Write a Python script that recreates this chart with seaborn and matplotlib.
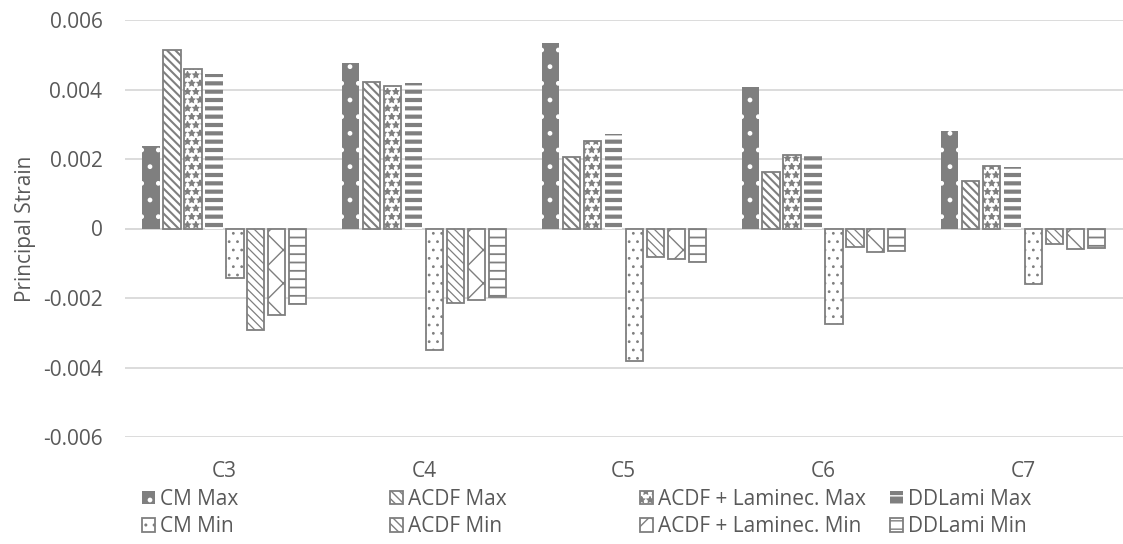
import numpy as np
import pandas as pd
import matplotlib
matplotlib.use("Agg")
import matplotlib.pyplot as plt
import matplotlib.patches as mpatches
import seaborn as sns

# data
levels = ["C3", "C4", "C5", "C6", "C7"]
series = ["CM Max", "ACDF Max", "ACDF + Laminec. Max", "DDLami Max",
          "CM Min", "ACDF Min", "ACDF + Laminec. Min", "DDLami Min"]
cm_max = [0.00237, 0.00475, 0.00533, 0.00408, 0.00281]
acdf_max = [0.00515, 0.00423, 0.00207, 0.00164, 0.00137]
lam_max = [0.00458, 0.00411, 0.00251, 0.00212, 0.00181]
ddlami_max = [0.00444, 0.00419, 0.00272, 0.00212, 0.00177]
cm_min = [-0.00143, -0.00349, -0.00380, -0.00275, -0.00160]
acdf_min = [-0.00292, -0.00215, -0.00082, -0.00054, -0.00045]
lam_min = [-0.00250, -0.00206, -0.00088, -0.00067, -0.00060]
ddlami_min = [-0.00218, -0.00196, -0.00097, -0.00065, -0.00055]
yticks = [-0.006, -0.004, -0.002, 0, 0.002, 0.004, 0.006]
ytick_labels = ["-0.006", "-0.004", "-0.002", "0", "0.002", "0.004", "0.006"]

values = [cm_max, acdf_max, lam_max, ddlami_max, cm_min, acdf_min, lam_min, ddlami_min]
df = pd.DataFrame({
    "level": levels * len(series),
    "series": [s for s in series for _ in levels],
    "strain": [v for vals in values for v in vals],
})

GRAY = "#7f7f7f"
TXT = "#595959"
GRID = "#d9d9d9"

# (face, hatch, hatch/edge colour, outline width, hatch width)
styles = {
    "CM Max": (GRAY, ".", "white", 0.0, 1.0),
    "ACDF Max": ("white", "\\\\\\\\", GRAY, 1.3, 1.5),
    "ACDF + Laminec. Max": ("white", "**", GRAY, 1.3, 1.0),
    "DDLami Max": (GRAY, "--", "white", 0.0, 3.0),
    "CM Min": ("white", "..", GRAY, 1.3, 0.8),
    "ACDF Min": ("white", "\\\\\\\\", GRAY, 1.3, 0.9),
    "ACDF + Laminec. Min": ("white", "x", GRAY, 1.3, 1.0),
    "DDLami Min": ("white", "--", GRAY, 1.3, 1.3),
}


def apply_style(p, name):
    face, hatch, hc, lw, hlw = styles[name]
    p.set_facecolor(face)
    p.set_hatch(hatch)
    p.set_edgecolor(hc)
    p.set_linewidth(lw)
    if hasattr(p, "set_hatch_linewidth"):
        p.set_hatch_linewidth(hlw)


sns.set_theme(style="white")
plt.rcParams["font.family"] = ["Open Sans", "DejaVu Sans"]
plt.rcParams["hatch.linewidth"] = 1.0

fig = plt.figure(figsize=(11.23, 5.44), dpi=100)
ax = fig.add_axes([124.6 / 1123, (544 - 437) / 544, (1123 - 124.6) / 1123, 417 / 544])

sns.barplot(data=df, x="level", y="strain", hue="series", hue_order=series,
            order=levels, width=0.84, gap=0.18, palette=["white"] * 8,
            legend=False, ax=ax, errorbar=None)

for name, cont in zip(series, ax.containers):
    for p in cont:
        apply_style(p, name)

ax.set_ylim(-0.006, 0.006)
ax.set_xlim(-0.5, 4.5)
ax.set_yticks(yticks)
ax.set_yticklabels(ytick_labels)
ax.yaxis.grid(True, color=GRID, linewidth=1.3)
ax.set_axisbelow(True)
ax.axhline(0, color=GRID, linewidth=1.3, zorder=0.5)
for s in ax.spines.values():
    s.set_visible(False)
ax.tick_params(axis="both", length=0, labelsize=15, colors=TXT)
ax.tick_params(axis="y", pad=16)
ax.tick_params(axis="x", pad=17)
ax.set_xlabel("")
ax.set_ylabel("Principal Strain", fontsize=15, color=TXT)
ax.yaxis.set_label_coords((36 - 124.6) / 998.4, 0.5)

# legend: four columns placed like the original
col_x = [142, 390, 640, 890]
for j, x in enumerate(col_x):
    hs = []
    for name in (series[j], series[j + 4]):
        p = mpatches.Patch(label=name)
        apply_style(p, name)
        hs.append(p)
    fig.legend(handles=hs, loc="center left", bbox_to_anchor=(x / 1123, 1 - 513 / 544),
               frameon=False, fontsize=15, labelcolor=TXT, handlelength=0.62,
               handleheight=0.62, handletextpad=0.25, labelspacing=0.3,
               borderpad=0, borderaxespad=0)

fig.savefig("out.png", dpi=100)
